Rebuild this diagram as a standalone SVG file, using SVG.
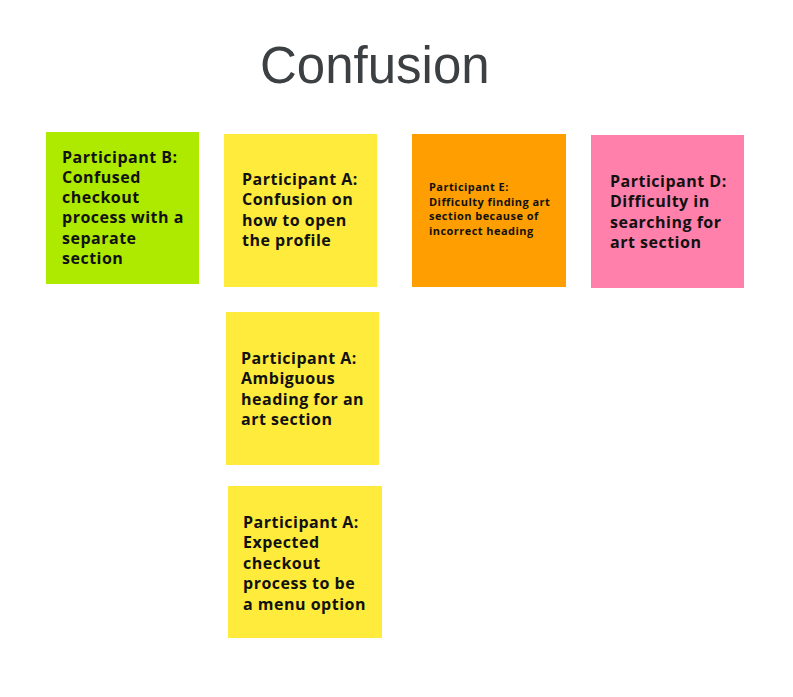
<svg xmlns="http://www.w3.org/2000/svg" width="793" height="697" viewBox="0 0 793 697">
<style>
.t{font-family:"Open Sans","Liberation Sans",sans-serif;font-weight:bold;fill:#111;font-size:16px;letter-spacing:0.5px}
.s{font-size:11px;letter-spacing:0.45px}
.title{font-family:"Liberation Sans",Arial,sans-serif;font-size:51px;fill:#3c4043}
</style>
<rect width="793" height="697" fill="#ffffff"/>
<text class="title" x="260" y="83">Confusion</text>
<g id="note-b">
<rect x="46" y="132" width="153" height="152" fill="#aeea00"/>
<text class="t"><tspan x="62" y="163">Participant B:</tspan><tspan x="62" y="183">Confused</tspan><tspan x="62" y="203">checkout</tspan><tspan x="62" y="223">process with a</tspan><tspan x="62" y="244">separate</tspan><tspan x="62" y="264">section</tspan></text>
</g>
<g id="note-a1">
<rect x="224" y="134" width="153" height="153" fill="#ffeb3b"/>
<text class="t"><tspan x="242" y="185">Participant A:</tspan><tspan x="242" y="205">Confusion on</tspan><tspan x="242" y="226">how to open</tspan><tspan x="242" y="246">the profile</tspan></text>
</g>
<g id="note-e">
<rect x="412" y="134" width="154" height="153" fill="#ff9e00"/>
<text class="t s"><tspan x="429" y="191">Participant E:</tspan><tspan x="429" y="206">Difficulty finding art</tspan><tspan x="429" y="220">section because of</tspan><tspan x="429" y="235">incorrect heading</tspan></text>
</g>
<g id="note-d">
<rect x="591" y="135" width="153" height="153" fill="#ff80ab"/>
<text class="t"><tspan x="610" y="187">Participant D:</tspan><tspan x="610" y="207">Difficulty in</tspan><tspan x="610" y="228">searching for</tspan><tspan x="610" y="248">art section</tspan></text>
</g>
<g id="note-a2">
<rect x="226" y="312" width="153" height="153" fill="#ffeb3b"/>
<text class="t"><tspan x="241" y="364">Participant A:</tspan><tspan x="241" y="384">Ambiguous</tspan><tspan x="241" y="405">heading for an</tspan><tspan x="241" y="425">art section</tspan></text>
</g>
<g id="note-a3">
<rect x="228" y="486" width="154" height="152" fill="#ffeb3b"/>
<text class="t"><tspan x="243" y="528">Participant A:</tspan><tspan x="243" y="548">Expected</tspan><tspan x="243" y="569">checkout</tspan><tspan x="243" y="589">process to be</tspan><tspan x="243" y="610">a menu option</tspan></text>
</g>
<g id="connectors"></g>
</svg>
